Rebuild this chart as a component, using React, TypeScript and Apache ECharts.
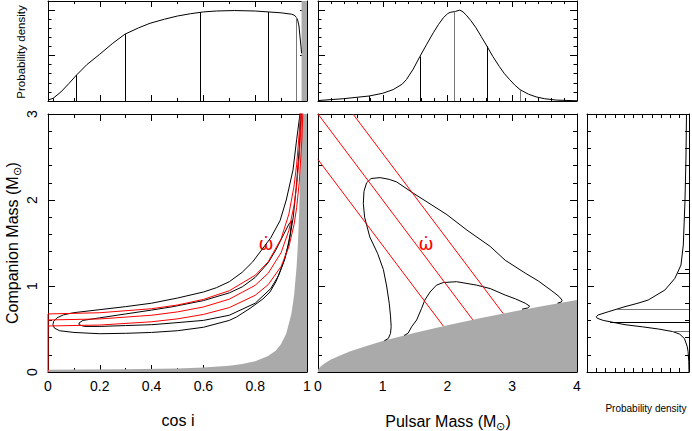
import React, { useEffect, useRef } from "react";
import * as echarts from "echarts";

// ---------- data ----------
// top-left: probability density of cos i
const cosPdf = [
  [0, 0.02], [0.02, 0.06], [0.05, 0.2], [0.08, 0.38], [0.11, 0.57], [0.15, 0.8], [0.2, 1.03],
  [0.25, 1.27], [0.297, 1.47], [0.35, 1.61], [0.394, 1.71], [0.45, 1.8], [0.5, 1.87], [0.55, 1.92],
  [0.6, 1.96], [0.65, 1.98], [0.72, 1.99], [0.8, 1.98], [0.85, 1.96], [0.9, 1.94], [0.94, 1.91],
  [0.95, 1.89], [0.958, 1.85], [0.964, 1.78], [0.969, 1.65], [0.973, 1.41], [0.977, 1.19], [0.979, 1.05],
];
const cosPdfMarks = [[0.02, 0.06], [0.11, 0.57], [0.297, 1.47], [0.587, 1.95], [0.85, 1.96], [0.958, 1.85]];
const cosPdfMarkShade = ["#000", "#000", "#000", "#000", "#000", "#777"];
const cosForbiddenStrip = [[0.979, 2.2], [1.0, 2.2]];

// top-middle: probability density of pulsar mass
const mpPdf = [
  [0, 0.01], [0.39, 0.05], [0.79, 0.11], [1.0, 0.17], [1.16, 0.25], [1.3, 0.37], [1.365, 0.47],
  [1.47, 0.7], [1.574, 0.98], [1.68, 1.25], [1.78, 1.5], [1.86, 1.68], [1.935, 1.83], [2.0, 1.92],
  [2.04, 1.95], [2.12, 1.97], [2.19, 2.0], [2.24, 1.96], [2.29, 1.89], [2.36, 1.77], [2.44, 1.61],
  [2.52, 1.42], [2.61, 1.205], [2.7, 0.98], [2.8, 0.76], [2.88, 0.6], [2.96, 0.47], [3.04, 0.35],
  [3.12, 0.25], [3.25, 0.15], [3.37, 0.09], [3.5, 0.05], [3.68, 0.02], [4.0, 0.005],
];
const mpPdfMarks = [[0.79, 0.11], [1.574, 0.98], [2.11, 1.97], [2.61, 1.205], [3.12, 0.25]];
const mpPdfMarkShade = ["#000", "#000", "#777", "#000", "#777"];

// right: probability density of companion mass  [density, mass]
const mcPdf = [
  [0, 0], [0.005, 0.12], [0.02, 0.24], [0.04, 0.3], [0.1, 0.39], [0.2, 0.44], [0.35, 0.47],
  [0.66, 0.5], [1.0, 0.525], [1.38, 0.55], [1.85, 0.6], [1.98, 0.625], [2.0, 0.643], [1.96, 0.663],
  [1.745, 0.7], [1.38, 0.76], [1.1, 0.8], [0.88, 0.837], [0.52, 0.953], [0.303, 1.09], [0.173, 1.244],
  [0.123, 1.477], [0.087, 1.98], [0.065, 2.5], [0.054, 3.0],
];
const mcPdfMarks = [[1.148, 0.24], [0.733, 1.55], [0.578, 1.7], [0.469, 0.35]];
const mcPdfMarkShade = ["#000", "#777", "#000", "#777"];

// main left: cos i vs companion mass
const cosBoundary = [
  [0, 0.027], [0.3, 0.031], [0.5, 0.042], [0.6, 0.053], [0.7, 0.074], [0.75, 0.093], [0.8, 0.125],
  [0.85, 0.185], [0.88, 0.251], [0.9, 0.326], [0.92, 0.448], [0.94, 0.68], [0.95, 0.888],
  [0.96, 1.23], [0.965, 1.497], [0.97, 1.879], [0.975, 2.461], [0.978, 2.977], [0.98, 3.43], [1.0, 3.43],
];
const cosOuter = [
  [0.975, 3.05], [0.96, 2.7], [0.946, 2.35], [0.92, 2.0], [0.896, 1.76], [0.86, 1.56], [0.83, 1.44],
  [0.79, 1.28], [0.75, 1.16], [0.7, 1.05], [0.65, 0.98], [0.6, 0.93], [0.5, 0.86], [0.4, 0.8],
  [0.3, 0.76], [0.2, 0.725], [0.1, 0.69], [0.06, 0.665], [0.035, 0.63], [0.022, 0.59], [0.019, 0.55],
  [0.025, 0.51], [0.045, 0.48], [0.1, 0.46], [0.2, 0.445], [0.3, 0.45], [0.4, 0.46], [0.5, 0.48],
  [0.6, 0.52], [0.7, 0.6], [0.728, 0.64], [0.78, 0.74], [0.83, 0.85], [0.857, 0.93], [0.88, 1.05],
  [0.9, 1.2], [0.915, 1.32], [0.93, 1.5], [0.947, 1.8], [0.96, 2.2], [0.97, 2.6], [0.978, 3.05],
];
const cosInner = [
  [0.12, 0.57], [0.135, 0.6], [0.2, 0.63], [0.3, 0.675], [0.4, 0.72], [0.483, 0.76], [0.6, 0.83],
  [0.7, 0.92], [0.75, 0.99], [0.8, 1.1], [0.85, 1.27], [0.88, 1.42], [0.91, 1.6], [0.93, 1.72],
  [0.941, 1.76], [0.935, 1.6], [0.925, 1.45], [0.91, 1.28], [0.89, 1.12], [0.86, 0.97], [0.8, 0.8],
  [0.7, 0.66], [0.6, 0.6], [0.483, 0.57], [0.4, 0.55], [0.3, 0.54], [0.2, 0.53], [0.14, 0.53],
  [0.12, 0.55], [0.12, 0.57],
];
const omegaCosHigh = [
  [0, 0.675], [0.2, 0.689], [0.4, 0.736], [0.5, 0.779], [0.6, 0.844], [0.7, 0.945], [0.8, 1.125],
  [0.85, 1.281], [0.9, 1.549], [0.93, 1.836], [0.95, 2.162], [0.96, 2.411], [0.97, 2.777], [0.975, 3.04],
];
const omegaCosMid = [
  [0, 0.605], [0.2, 0.617], [0.4, 0.66], [0.5, 0.699], [0.6, 0.756], [0.7, 0.847], [0.8, 1.008],
  [0.85, 1.148], [0.9, 1.388], [0.93, 1.646], [0.95, 1.938], [0.96, 2.161], [0.97, 2.489], [0.98, 3.04],
];
const omegaCosLow = [
  [0, 0.535], [0.2, 0.546], [0.4, 0.584], [0.5, 0.618], [0.6, 0.669], [0.7, 0.749], [0.8, 0.892],
  [0.85, 1.015], [0.9, 1.227], [0.93, 1.455], [0.95, 1.714], [0.96, 1.911], [0.97, 2.201],
  [0.98, 2.69], [0.985, 3.1],
];
const omegaCosEdge = [[0, 0], [0, 0.675]];

// main middle: pulsar mass vs companion mass
const mpBoundary = [
  [0, 0.025], [0.02, 0.049], [0.05, 0.071], [0.1, 0.1], [0.2, 0.144], [0.35, 0.196], [0.5, 0.24],
  [0.75, 0.303], [1, 0.36], [1.5, 0.457], [2, 0.545], [2.5, 0.625], [3, 0.7], [3.5, 0.77], [4, 0.836],
];
const mpOuter = [
  [1.025, 0.364], [1.087, 0.39], [1.12, 0.45], [1.13, 0.53], [1.12, 0.65], [1.1, 0.8], [1.06, 1.0],
  [1.01, 1.19], [0.92, 1.38], [0.8, 1.57], [0.72, 1.8], [0.7, 1.96], [0.71, 2.1], [0.75, 2.2],
  [0.82, 2.25], [0.96, 2.26], [1.1, 2.24], [1.215, 2.21], [1.47, 2.08], [1.99, 1.83], [2.3, 1.65],
  [2.66, 1.46], [2.89, 1.3], [3.2, 1.15], [3.4, 1.06], [3.6, 0.95], [3.72, 0.88], [3.77, 0.835],
  [3.76, 0.815], [3.7, 0.8],
];
const mpInner = [
  [1.33, 0.425], [1.39, 0.45], [1.447, 0.527], [1.524, 0.605], [1.6, 0.74], [1.65, 0.837],
  [1.73, 0.93], [1.83, 1.01], [1.935, 1.04], [2.14, 1.05], [2.45, 1.01], [2.66, 0.97], [2.89, 0.895],
  [3.05, 0.85], [3.2, 0.8], [3.27, 0.765], [3.24, 0.745], [3.15, 0.73],
];
const omegaMpHigh = [[0.54, 3.0], [2.86, 0.68]];
const omegaMpMid = [[0, 3.0], [2.39, 0.607]];
const omegaMpLow = [[0, 2.47], [1.935, 0.535]];

// tick labels
const cosTicks = [0, 0.2, 0.4, 0.6, 0.8, 1];
const mpTicks = [0, 1, 2, 3, 4];
const mcTicks = [0, 1, 2, 3];

// ---------- styling ----------
const FONT = '"Liberation Sans", Arial, Helvetica, sans-serif';
const BLACK = "#000";
const SHADE = "#aaaaaa";
const RED = "#ff0000";

function axis(gridIndex: number, position: string, min: number, max: number, interval: number,
  minorSplit: number, majorLen: number, minorLen: number, extra: any = {}) {
  return {
    type: "value", gridIndex, position, min, max, interval,
    axisLine: { show: true, onZero: false, lineStyle: { color: BLACK, width: 1 } },
    axisTick: { show: true, inside: true, length: majorLen, lineStyle: { color: BLACK, width: 1 } },
    minorTick: { show: minorSplit > 0, splitNumber: minorSplit || 5, length: minorLen, lineStyle: { color: BLACK, width: 1 } },
    splitLine: { show: false }, minorSplitLine: { show: false },
    axisLabel: { show: false },
    ...extra,
  };
}

const line = (xi: number, yi: number, data: number[][], color: string, z: number, extra: any = {}) => ({
  type: "line", xAxisIndex: xi, yAxisIndex: yi, data, symbol: "none", showSymbol: false,
  lineStyle: { color, width: 1 }, silent: true, z, ...extra,
});
const area = (xi: number, yi: number, data: number[][]) => ({
  type: "line", xAxisIndex: xi, yAxisIndex: yi, data, symbol: "none", showSymbol: false,
  lineStyle: { width: 0, color: SHADE }, areaStyle: { color: SHADE, opacity: 1 }, silent: true, z: 1,
});
const markLines = (segs: any[]) => ({
  symbol: ["none", "none"], silent: true, label: { show: false },
  lineStyle: { width: 1, type: "solid" }, data: segs,
});

const labelStyle = { color: BLACK, fontFamily: FONT, fontSize: 14 };

function buildOption() {
  const xAxis = [
    axis(0, "bottom", 0, 1, 0.2, 2, 6, 3),
    axis(0, "top", 0, 1, 0.2, 2, 6, 3),
    axis(1, "bottom", 0, 4, 1, 5, 6, 3),
    axis(1, "top", 0, 4, 1, 5, 6, 3),
    axis(2, "bottom", 0, 1, 0.2, 2, 7, 4, {
      axisLabel: { show: true, margin: 7, ...labelStyle,
        formatter: (v: number) => (cosTicks.indexOf(Math.round(v * 10) / 10) >= 0 ? String(Math.round(v * 10) / 10) : "") },
    }),
    axis(2, "top", 0, 1, 0.2, 2, 7, 4),
    axis(3, "bottom", 0, 4, 1, 5, 7, 4, {
      axisLabel: { show: true, margin: 7, ...labelStyle,
        formatter: (v: number) => (mpTicks.indexOf(Math.round(v)) >= 0 ? String(Math.round(v)) : "") },
    }),
    axis(3, "top", 0, 4, 1, 5, 7, 4),
    axis(4, "bottom", 0, 2.2, 0.2, 0, 4, 2, { inverse: true }),
    axis(4, "top", 0, 2.2, 0.2, 0, 4, 2, { inverse: true }),
  ];
  const hideLine = { axisLine: { show: false, onZero: false } };
  const yAxis = [
    axis(0, "left", 0, 2.2, 0.2, 0, 3.5, 2),
    axis(0, "right", 0, 2.2, 0.2, 0, 3.5, 2),
    axis(0, "left", 0, 2.2, 1, 0, 7, 2, hideLine),
    axis(0, "right", 0, 2.2, 1, 0, 7, 2, hideLine),
    axis(1, "left", 0, 2.2, 0.2, 0, 3.5, 2),
    axis(1, "right", 0, 2.2, 0.2, 0, 3.5, 2),
    axis(1, "left", 0, 2.2, 1, 0, 7, 2, hideLine),
    axis(1, "right", 0, 2.2, 1, 0, 7, 2, hideLine),
    axis(2, "left", 0, 3, 1, 5, 7, 4, {
      axisLabel: { show: true, rotate: 90, margin: 9, ...labelStyle,
        formatter: (v: number) => (mcTicks.indexOf(Math.round(v)) >= 0 ? String(Math.round(v)) : "") },
    }),
    axis(2, "right", 0, 3, 1, 5, 7, 4),
    axis(3, "left", 0, 3, 1, 5, 7, 4),
    axis(3, "right", 0, 3, 1, 5, 7, 4),
    axis(4, "left", 0, 3, 1, 5, 7, 4),
    axis(4, "right", 0, 3, 1, 5, 7, 4),
  ];

  const series: any[] = [
    // top-left
    area(0, 0, cosForbiddenStrip),
    line(0, 0, cosPdf, BLACK, 3, {
      markLine: markLines(cosPdfMarks.map(([x, y], i) => [
        { coord: [x, 0], lineStyle: { color: cosPdfMarkShade[i] } }, { coord: [x, y] }])),
    }),
    // top-middle
    line(2, 4, mpPdf, BLACK, 3, {
      markLine: markLines(mpPdfMarks.map(([x, y], i) => [
        { coord: [x, 0], lineStyle: { color: mpPdfMarkShade[i] } }, { coord: [x, y] }])),
    }),
    // main left
    area(4, 8, cosBoundary),
    line(4, 8, cosOuter, BLACK, 3),
    line(4, 8, cosInner, BLACK, 3),
    line(4, 8, omegaCosHigh, RED, 4),
    line(4, 8, omegaCosMid, RED, 4),
    line(4, 8, omegaCosLow, RED, 4),
    line(4, 8, omegaCosEdge, RED, 4),
    // main middle
    area(6, 10, mpBoundary),
    line(6, 10, mpOuter, BLACK, 3),
    line(6, 10, mpInner, BLACK, 3),
    line(6, 10, omegaMpHigh, RED, 4),
    line(6, 10, omegaMpMid, RED, 4),
    line(6, 10, omegaMpLow, RED, 4),
    // right
    line(8, 12, mcPdf, BLACK, 3, {
      markLine: markLines(mcPdfMarks.map(([y, x], i) => [
        { coord: [x, y], lineStyle: { color: mcPdfMarkShade[i] } }, { coord: [0, y] }])),
    }),
  ];

  const sub = { fontSize: 11, fontFamily: FONT, fill: BLACK, padding: [9, 0, 0, 0] };
  const graphic = [
    { type: "text", x: 178, y: 420, silent: true,
      style: { text: "cos i", fontSize: 16, fontFamily: FONT, fill: BLACK, align: "center", verticalAlign: "middle" } },
    { type: "text", x: 448, y: 421, silent: true,
      style: { text: "Pulsar Mass (M{s|⊙})", rich: { s: sub }, fontSize: 16, fontFamily: FONT, fill: BLACK, align: "center", verticalAlign: "middle" } },
    { type: "text", x: 12, y: 243, rotation: Math.PI / 2, silent: true,
      style: { text: "Companion Mass (M{s|⊙})", rich: { s: sub }, fontSize: 16, fontFamily: FONT, fill: BLACK, align: "center", verticalAlign: "middle" } },
    { type: "text", x: 21, y: 52, rotation: Math.PI / 2, silent: true,
      style: { text: "Probability density", fontSize: 11.5, fontFamily: FONT, fill: BLACK, align: "center", verticalAlign: "middle" } },
    { type: "text", x: 646, y: 408, silent: true,
      style: { text: "Probability density", fontSize: 10, fontFamily: FONT, fill: BLACK, align: "center", verticalAlign: "middle" } },
    { type: "text", x: 266, y: 243, silent: true,
      style: { text: "\u03c9\u0307", fontSize: 18, fontFamily: '"DejaVu Sans", sans-serif', fill: RED, align: "center", verticalAlign: "middle" } },
    { type: "text", x: 426, y: 243, silent: true,
      style: { text: "\u03c9\u0307", fontSize: 18, fontFamily: '"DejaVu Sans", sans-serif', fill: RED, align: "center", verticalAlign: "middle" } },
  ];

  return {
    animation: false,
    backgroundColor: "#fff",
    grid: [
      { left: 48, top: 1, width: 259, height: 100 },
      { left: 318, top: 1, width: 259, height: 100 },
      { left: 48, top: 114, width: 259, height: 258 },
      { left: 318, top: 114, width: 259, height: 258 },
      { left: 587, top: 114, width: 102, height: 258 },
    ],
    xAxis, yAxis, series, graphic,
  };
}

export default function App() {
  const ref = useRef<HTMLDivElement>(null);
  useEffect(() => {
    if (!ref.current) return;
    const chart = echarts.init(ref.current, null, { renderer: "svg", width: 692, height: 431 });
    chart.setOption(buildOption() as any);
    return () => chart.dispose();
  }, []);
  return (
    <div ref={ref} style={{ position: "absolute", left: 0, top: 0, width: 692, height: 431, background: "#fff" }} />
  );
}
